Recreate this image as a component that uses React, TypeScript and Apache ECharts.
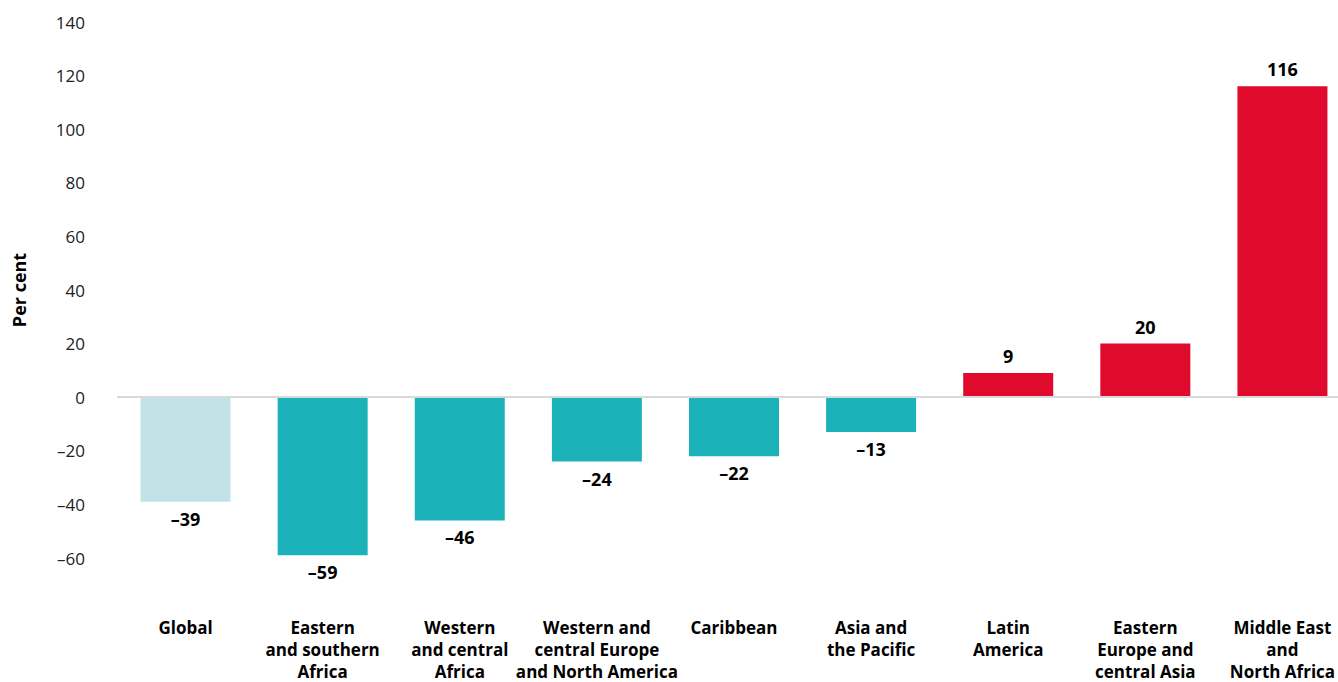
import React, { useEffect, useRef } from "react";
import * as echarts from "echarts";

const categories = [
  "Global",
  "Eastern\nand southern\nAfrica",
  "Western\nand central\nAfrica",
  "Western and\ncentral Europe\nand North America",
  "Caribbean",
  "Asia and\nthe Pacific",
  "Latin\nAmerica",
  "Eastern\nEurope and\ncentral Asia",
  "Middle East\nand\nNorth Africa",
];
const values = [-39, -59, -46, -24, -22, -13, 9, 20, 116];
const yTicks = { min: -60, max: 140, interval: 20 };

const COLOR_GLOBAL = "#c1e2e6";
const COLOR_NEG = "#1cb2b9";
const COLOR_POS = "#df0a2c";
const FONT = "'Open Sans', 'Noto Sans', sans-serif";

const fmt = (v: number) => (v < 0 ? "\u2013" + Math.abs(v) : String(v));

export default function App() {
  const ref = useRef<HTMLDivElement>(null);
  useEffect(() => {
    if (!ref.current) return;
    const chart = echarts.init(ref.current, undefined, { renderer: "svg" });
    chart.setOption({
      animation: false,
      grid: { left: 117, right: -13, top: 22, bottom: 124, outerBoundsMode: "none" },
      xAxis: {
        type: "category",
        data: categories,
        axisLine: { show: false, onZero: false },
        axisTick: { show: false },
        axisLabel: {
          interval: 0,
          margin: 58,
          verticalAlign: "top",
          color: "#000",
          fontFamily: FONT,
          fontWeight: "bold",
          fontSize: 17,
          lineHeight: 22,
        },
      },
      yAxis: {
        type: "value",
        min: yTicks.min,
        max: yTicks.max,
        interval: yTicks.interval,
        name: "Per cent",
        nameLocation: "middle",
        nameRotate: 90,
        nameGap: 89,
        nameTextStyle: { color: "#000", fontFamily: FONT, fontWeight: "bold", fontSize: 18 },
        axisLine: { show: false },
        axisTick: { show: false },
        splitLine: { show: false },
        axisLabel: {
          margin: 32,
          color: "#222",
          fontFamily: FONT,
          fontSize: 17,
          formatter: (v: number) => fmt(v),
        },
      },
      series: [
        {
          type: "bar",
          barWidth: 90,
          data: values.map((v, i) => ({
            value: v,
            itemStyle: { color: i === 0 ? COLOR_GLOBAL : v < 0 ? COLOR_NEG : COLOR_POS },
            label: { position: v < 0 ? "bottom" : "top" },
          })),
          label: {
            show: true,
            distance: 8,
            color: "#000",
            fontFamily: FONT,
            fontWeight: "bold",
            fontSize: 18,
            formatter: (p: any) => fmt(p.value),
          },
          markLine: {
            silent: true,
            symbol: "none",
            label: { show: false },
            lineStyle: { color: "#d9d9d9", width: 2, type: "solid" },
            data: [{ yAxis: 0 }],
          },
        },
      ],
    });
    return () => chart.dispose();
  }, []);
  return <div ref={ref} style={{ width: 1338, height: 682, position: "absolute", left: 0, top: 0 }} />;
}
